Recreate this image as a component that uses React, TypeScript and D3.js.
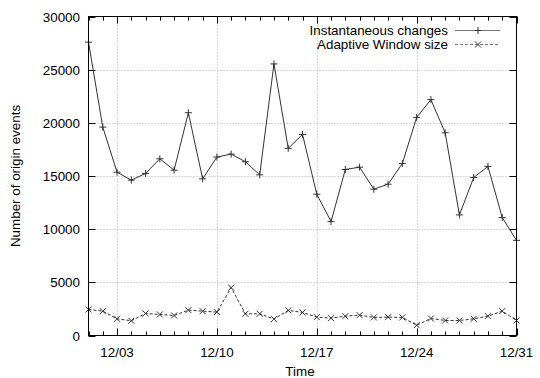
import React from "react";
import * as d3 from "d3";

const days = d3.range(1, 32);
const instantaneous = [
  27590, 19600, 15360, 14610, 15240, 16620, 15550, 20950, 14730, 16780,
  17060, 16340, 15110, 25540, 17600, 18910, 13290, 10710, 15610, 15830,
  13760, 14230, 16180, 20510, 22180, 19070, 11340, 14860, 15900, 11090, 8950,
];
const adaptive = [
  2450, 2290, 1570, 1385, 2070, 1980, 1885, 2385, 2290, 2200,
  4500, 2040, 2040, 1540, 2360, 2170, 1730, 1635, 1820, 1915,
  1700, 1730, 1700, 970, 1600, 1410, 1410, 1570, 1820, 2290, 1410,
];
const yTicks = [0, 5000, 10000, 15000, 20000, 25000, 30000];
const xMajor = [3, 10, 17, 24, 31];
const xLabel = (d: number) => `12/${String(d).padStart(2, "0")}`;
const seriesNames = ["Instantaneous changes", "Adaptive Window size"];

const W = 540, H = 378;
const L = 88.5, R = 516.5, T = 16.5, B = 335.5;
const FONT = "'Liberation Sans', Arial, sans-serif";
const FS = 13.4;
const LINE = "#333";

export default function App() {
  const x = d3.scaleLinear().domain([1, 31]).range([L, R]);
  const y = d3.scaleLinear().domain([0, 30000]).range([B, T]);
  const line = d3.line<number>().x((_, i) => x(days[i])).y((d) => y(d));

  const plus = (cx: number, cy: number, k: string) => (
    <path key={k} d={`M${cx - 3.5},${cy}H${cx + 3.5}M${cx},${cy - 3.5}V${cy + 3.5}`} stroke={LINE} strokeWidth={1} fill="none" />
  );
  const cross = (cx: number, cy: number, k: string) => (
    <path key={k} d={`M${cx - 3},${cy - 3}L${cx + 3},${cy + 3}M${cx - 3},${cy + 3}L${cx + 3},${cy - 3}`} stroke={LINE} strokeWidth={1} fill="none" />
  );

  return (
    <svg width={W} height={H} style={{ position: "fixed", left: 0, top: 0, background: "#fff" }} fontFamily={FONT}>
      <rect width={W} height={H} fill="#fff" />
      {/* grid */}
      {yTicks.filter((t) => t > 0 && t < 30000).map((t) => (
        <line key={"gy" + t} x1={L} x2={R} y1={Math.round(y(t)) + 0.5} y2={Math.round(y(t)) + 0.5} stroke="#b4b4b4" strokeDasharray="1,2" />
      ))}
      {xMajor.filter((d) => d < 31).map((d) => (
        <line key={"gx" + d} y1={T} y2={B} x1={Math.round(x(d)) + 0.5} x2={Math.round(x(d)) + 0.5} stroke="#b4b4b4" strokeDasharray="1,2" />
      ))}
      {/* ticks */}
      {yTicks.map((t) => {
        const yy = Math.round(y(t)) + 0.5;
        return (
          <g key={"ty" + t}>
            <line x1={L} x2={L + 7} y1={yy} y2={yy} stroke="#000" />
            <line x1={R} x2={R - 7} y1={yy} y2={yy} stroke="#000" />
            <text x={80} y={yy} dy="0.36em" textAnchor="end" fontSize={FS}>{t}</text>
          </g>
        );
      })}
      {days.map((d) => {
        const xx = Math.round(x(d)) + 0.5;
        const len = xMajor.includes(d) ? 7 : 4;
        return (
          <g key={"tx" + d}>
            <line x1={xx} x2={xx} y1={B} y2={B - len} stroke="#000" />
            <line x1={xx} x2={xx} y1={T} y2={T + len} stroke="#000" />
          </g>
        );
      })}
      {xMajor.map((d) => (
        <text key={"lx" + d} x={x(d)} y={357} textAnchor="middle" fontSize={FS}>{xLabel(d)}</text>
      ))}
      {/* series */}
      <path d={line(instantaneous) || ""} fill="none" stroke={LINE} strokeWidth={1} />
      {instantaneous.map((v, i) => plus(x(days[i]), y(v), "p" + i))}
      <path d={line(adaptive) || ""} fill="none" stroke={LINE} strokeWidth={1} strokeDasharray="3,2" />
      {adaptive.map((v, i) => cross(x(days[i]), y(v), "c" + i))}
      {/* frame */}
      <rect x={L} y={T} width={R - L} height={B - T} fill="none" stroke="#000" strokeWidth={1} />
      {/* legend */}
      <text x={448} y={30} dy="0.36em" textAnchor="end" fontSize={FS}>{seriesNames[0]}</text>
      <line x1={455} x2={500} y1={30.5} y2={30.5} stroke="#777" />
      {plus(478, 30.5, "lp")}
      <text x={448} y={44} dy="0.36em" textAnchor="end" fontSize={FS}>{seriesNames[1]}</text>
      <line x1={455} x2={500} y1={44.5} y2={44.5} stroke="#777" strokeDasharray="3,2" />
      {cross(478, 44.5, "lc")}
      {/* axis titles */}
      <text x={300} y={376} textAnchor="middle" fontSize={FS}>Time</text>
      <text transform={`translate(20,${(T + B) / 2}) rotate(-90)`} textAnchor="middle" fontSize={FS}>Number of origin events</text>
    </svg>
  );
}
